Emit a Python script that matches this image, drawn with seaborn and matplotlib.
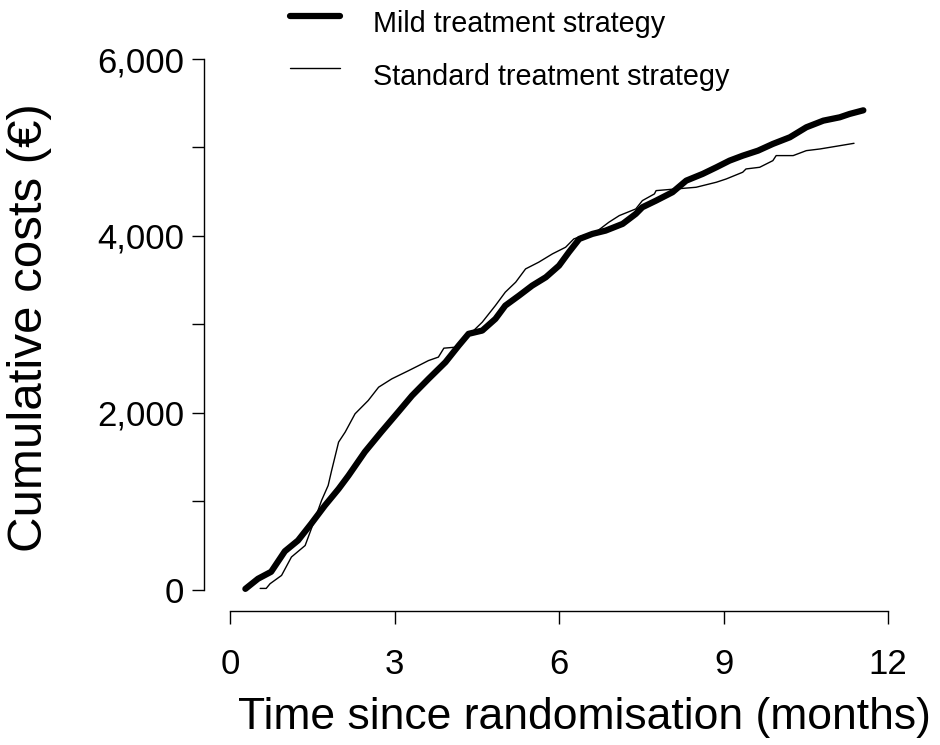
import matplotlib
matplotlib.use("Agg")
import matplotlib.pyplot as plt
from matplotlib.lines import Line2D
import pandas as pd
import seaborn as sns

# Cumulative mean costs per patient over follow-up
mild_months = [0.28, 0.51, 0.75, 1.00, 1.24, 1.48, 1.73, 1.98, 2.16, 2.46, 2.76,
               3.07, 3.32, 3.62, 3.93, 4.17, 4.35, 4.60, 4.84, 5.02, 5.27, 5.51,
               5.76, 6.00, 6.18, 6.37, 6.61, 6.85, 7.16, 7.40, 7.52, 7.77, 8.07,
               8.32, 8.62, 8.87, 9.11, 9.35, 9.63, 9.90, 10.21, 10.51, 10.82,
               11.12, 11.30, 11.55]
mild_costs = [10, 124, 203, 435, 557, 746, 952, 1140, 1290, 1559, 1785,
              2011, 2195, 2384, 2573, 2760, 2893, 2930, 3062, 3212, 3325, 3438,
              3533, 3664, 3816, 3966, 4023, 4060, 4136, 4249, 4324, 4399, 4494,
              4625, 4701, 4776, 4851, 4907, 4964, 5040, 5115, 5228, 5303,
              5341, 5379, 5420]

standard_months = [0.55, 0.66, 0.73, 0.94, 1.12, 1.37, 1.55, 1.67, 1.79, 1.85,
                   1.98, 2.10, 2.28, 2.52, 2.71, 2.95, 3.26, 3.44, 3.62, 3.80,
                   3.90, 4.11, 4.35, 4.60, 4.84, 5.02, 5.21, 5.39, 5.63, 5.88,
                   6.12, 6.27, 6.43, 6.67, 6.91, 7.10, 7.40, 7.52, 7.74, 7.77,
                   8.13, 8.50, 8.87, 9.05, 9.35, 9.41, 9.66, 9.90, 9.96, 10.27,
                   10.51, 10.76, 11.12, 11.38]
standard_costs = [15, 15, 68, 162, 370, 500, 802, 1010, 1179, 1340,
                  1669, 1782, 1989, 2139, 2290, 2384, 2478, 2534, 2591, 2630,
                  2731, 2742, 2874, 3025, 3213, 3364, 3477, 3627, 3703, 3797,
                  3872, 3966, 4003, 4042, 4155, 4230, 4305, 4399, 4475, 4512,
                  4531, 4550, 4607, 4644, 4720, 4757, 4776, 4851, 4908, 4908,
                  4964, 4983, 5020, 5047]

series_labels = ["Mild treatment strategy", "Standard treatment strategy"]
x_ticks = [0, 3, 6, 9, 12]
y_ticks = [0, 1000, 2000, 3000, 4000, 5000, 6000]
y_tick_labels = ["0", "", "2,000", "", "4,000", "", "6,000"]

sns.set_style("ticks")
plt.rcParams["font.family"] = ["Liberation Sans", "DejaVu Sans"]
plt.rcParams["text.color"] = "black"
plt.rcParams["axes.labelcolor"] = "black"

df = pd.concat([
    pd.DataFrame({"months": mild_months, "costs": mild_costs,
                  "strategy": series_labels[0]}),
    pd.DataFrame({"months": standard_months, "costs": standard_costs,
                  "strategy": series_labels[1]}),
], ignore_index=True)

fig = plt.figure(figsize=(9.4, 7.45), dpi=100)
ax = fig.add_axes([0.2167, 0.1799, 0.756, 0.7694])

widths = {series_labels[0]: 4.5, series_labels[1]: 1.0}
for label in series_labels:
    sns.lineplot(data=df[df["strategy"] == label], x="months", y="costs",
                 color="black", lw=widths[label], estimator=None, sort=False,
                 ax=ax, legend=False, solid_capstyle="round",
                 solid_joinstyle="round")

ax.set_xlim(-0.48, 12.48)
ax.set_ylim(-240, 6240)
for side in ("top", "right"):
    ax.spines[side].set_visible(False)
ax.spines["left"].set_bounds(0, 6000)
ax.spines["bottom"].set_bounds(0, 12)
for side in ("left", "bottom"):
    ax.spines[side].set_linewidth(1.0)
    ax.spines[side].set_color("black")

ax.set_xticks(x_ticks)
ax.set_xticklabels([str(t) for t in x_ticks])
ax.set_yticks(y_ticks)
ax.set_yticklabels(y_tick_labels)
ax.tick_params(length=9, width=1.0, color="black", labelsize=25,
               labelcolor="black")
ax.tick_params(axis="x", pad=18)
ax.tick_params(axis="y", pad=5)

ax.set_xlabel("Time since randomisation (months)", fontsize=32, va="center",
              color="black")
ax.xaxis.set_label_coords(0.536, -0.1867)
ax.set_ylabel("Cumulative costs (€)", fontsize=35.5, va="center",
              color="black")
ax.yaxis.set_label_coords((30 - 203.7) / 710.6, 0.4937)

# key drawn above the plotting region
W, H = 940.0, 745.0
key_rows = [(series_labels[0], 4.5, 16, 24), (series_labels[1], 1.0, 68, 77)]
for text, lw, y_line, y_text in key_rows:
    fig.add_artist(Line2D([290 / W, 340 / W], [1 - y_line / H] * 2,
                          lw=lw, color="black", solid_capstyle="round",
                          transform=fig.transFigure))
    fig.text(373 / W, 1 - y_text / H, text, fontsize=20.7, ha="left",
             va="center", color="black")

fig.savefig("out.png", dpi=100)
